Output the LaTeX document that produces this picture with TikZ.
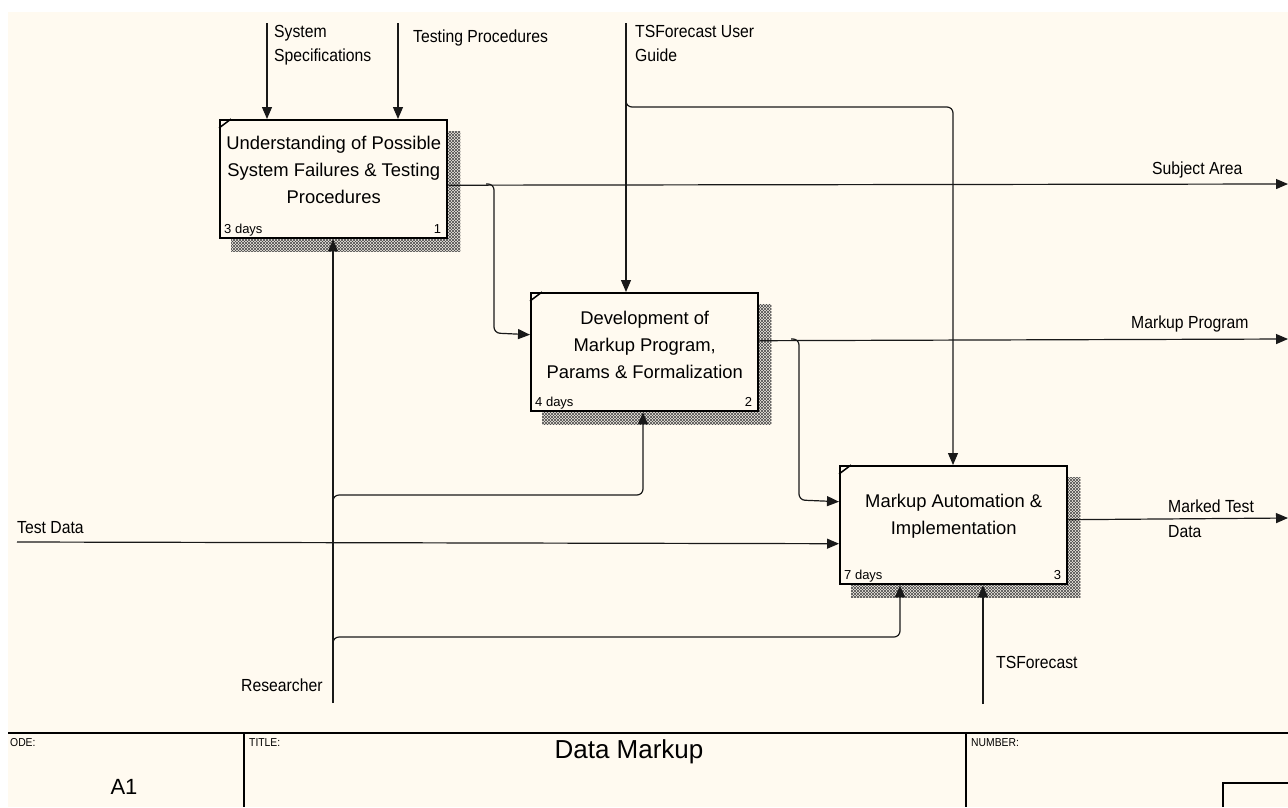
\documentclass[tikz,border=0pt]{standalone}
\usepackage{fontspec}
\setmainfont{Liberation Sans}
\newfontfamily\lblfont[FakeStretch=0.9]{Liberation Sans}
\usetikzlibrary{arrows.meta,patterns,backgrounds}
\definecolor{paper}{HTML}{FFFAF0}
% fine cross-hatch used for the activity box shadows
\pgfdeclarepatternformonly{idefshade}{\pgfqpoint{-1pt}{-1pt}}{\pgfqpoint{4pt}{4pt}}{\pgfqpoint{3pt}{3pt}}{%
  \pgfsetlinewidth{0.55pt}%
  \pgfpathmoveto{\pgfqpoint{0pt}{0pt}}\pgfpathlineto{\pgfqpoint{3.1pt}{3.1pt}}%
  \pgfpathmoveto{\pgfqpoint{0pt}{3pt}}\pgfpathlineto{\pgfqpoint{3.1pt}{-0.1pt}}%
  \pgfusepath{stroke}}
\tikzset{
  flow/.style={draw=black!90, line width=1.2pt, rounded corners=6pt},
  arr/.style={flow, -{Triangle[length=12pt,width=10pt]}},
  box/.style={draw, line width=2.4pt, fill=paper, minimum width=227pt,
    minimum height=118pt, anchor=north west, inner sep=0pt},
  boxtext/.style={font=\fontsize{18.4}{27}\selectfont, align=center, inner sep=0pt},
  tag/.style={font=\fontsize{13}{14}\selectfont, inner sep=0pt},
  lbl/.style={font=\lblfont\fontsize{17.5}{24.5}\selectfont, inner sep=0pt, align=left},
  foot/.style={font=\lblfont\fontsize{11.5}{12}\selectfont, inner sep=0pt, anchor=north west},
  shade/.style={pattern=idefshade, pattern color=black!70}
}
\begin{document}
\begin{tikzpicture}[x=1pt, y=-1pt]
\useasboundingbox (0,0) rectangle (1288,807);
\begin{scope}[on background layer]
  \fill[white] (0,0) rectangle (1288,807);
  \fill[paper] (8,12) rectangle (1288,807);
\end{scope}

% activity boxes
\node[box] (b1) at (219,119) {};
\node[box] (b2) at (530,292) {};
\node[box] (b3) at (839,465) {};

\begin{scope}[on background layer]
  \foreach \b in {b1,b2,b3}
    \fill[shade] ([xshift=12pt,yshift=-12pt]\b.north west) rectangle ([xshift=12pt,yshift=-12pt]\b.south east);
\end{scope}

\foreach \b in {b1,b2,b3}
  \draw[line width=1.5pt] ([yshift=-9pt]\b.north west) -- ([xshift=12pt]\b.north west);

\node[boxtext] (t1) at ([yshift=9pt]b1.center) {Understanding of Possible\\System Failures \& Testing\\Procedures};
\node[boxtext] (t2) at ([yshift=7pt]b2.center) {Development of\\Markup Program,\\Params \& Formalization};
\node[boxtext] (t3) at ([yshift=9pt]b3.center) {Markup Automation \&\\Implementation};

\node[tag, anchor=base west] (d1) at ([xshift=5pt,yshift=6pt]b1.south west) {3 days};
\node[tag, anchor=base east] (n1) at ([xshift=-7pt,yshift=6pt]b1.south east) {1};
\node[tag, anchor=base west] (d2) at ([xshift=5pt,yshift=6pt]b2.south west) {4 days};
\node[tag, anchor=base east] (n2) at ([xshift=-7pt,yshift=6pt]b2.south east) {2};
\node[tag, anchor=base west] (d3) at ([xshift=5pt,yshift=6pt]b3.south west) {7 days};
\node[tag, anchor=base east] (n3) at ([xshift=-7pt,yshift=6pt]b3.south east) {3};

% free ends of the arrows
\coordinate (spec) at (267,23);
\coordinate (tproc) at (398,23);
\coordinate (guide) at (626,23);
\coordinate (gj) at (626,99);
\coordinate (gk) at (953,107);
\coordinate (outA) at (1288,184);
\coordinate (outB) at (1288,339);
\coordinate (outC) at (1288,518);
\coordinate (tdata) at (17,542);
\coordinate (res) at (333,703);
\coordinate (r1) at (333,502);
\coordinate (r1k) at (643,495);
\coordinate (r2) at (333,644);
\coordinate (r2k) at (900,637);
\coordinate (tsf) at (983,704);
\coordinate (j1) at (486,184);
\coordinate (j2) at (791,339);

% controls
\draw[arr] (spec) -- (spec |- b1.north);
\draw[arr] (tproc) -- (tproc |- b1.north);
\draw[arr] (guide) -- (guide |- b2.north);
\draw[arr] (gj) -- (626,107) -- (gk) -- (gk |- b3.north);

% outputs
\draw[arr] ([yshift=-6pt]b1.east) -- (outA);
\draw[arr] (j1) -- (494,184) -- (494,333) -- ([yshift=17.5pt]b2.west);
\draw[arr] ([yshift=11.5pt]b2.east) -- (outB);
\draw[arr] (j2) -- (799,339) -- (799,500) -- ([yshift=23.5pt]b3.west);
\draw[arr] ([yshift=5.5pt]b3.east) -- (outC);

% input
\draw[arr] (tdata) -- ([yshift=-18.5pt]b3.west);

% mechanisms
\draw[arr] (res) -- (res |- b1.south);
\draw[arr] (r1) -- (333,495) -- (r1k) -- (r1k |- b2.south);
\draw[arr] (r2) -- (333,637) -- (r2k) -- (r2k |- b3.south);
\draw[arr] (tsf) -- (tsf |- b3.south);

% arrow labels
\node[lbl, anchor=north west] (lspec) at (274,25) {System\\Specifications};
\node[lbl, anchor=base west] (ltproc) at (413,42) {Testing Procedures};
\node[lbl, anchor=north west] (lguide) at (635,25) {TSForecast User\\Guide};
\node[lbl, anchor=base west] (lsubj) at (1152,174) {Subject Area};
\node[lbl, anchor=base west] (lprog) at (1131,328) {Markup Program};
\node[lbl, anchor=north west] (lmark) at (1168,500) {Marked Test\\Data};
\node[lbl, anchor=base west] (ltdata) at (17,533) {Test Data};
\node[lbl, anchor=base west] (lres) at (241,691) {Researcher};
\node[lbl, anchor=base west] (ltsf) at (996,668) {TSForecast};

% title block
\draw[line width=2pt] (8,733) -- (1288,733);
\draw[line width=1.2pt] (244,733) -- (244,807);
\draw[line width=1.2pt] (966,733) -- (966,807);
\draw[line width=1.2pt] (1223,807) -- (1223,783) -- (1290,783);
\node[foot] (fnode) at (10,738) {ODE:};
\node[foot] (ftitle) at (249,738) {TITLE:};
\node[foot] (fnum) at (971,738) {NUMBER:};
\node[font=\fontsize{26}{28}\selectfont, inner sep=0pt, anchor=base] (ttl) at (629,758) {Data Markup};
\node[font=\fontsize{22}{24}\selectfont, inner sep=0pt, anchor=base] (code) at (124,794) {A1};
\end{tikzpicture}
\end{document}
